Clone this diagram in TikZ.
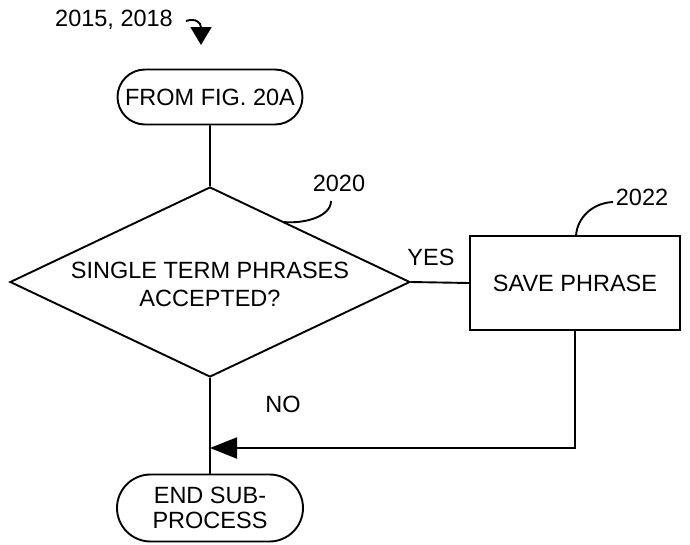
\documentclass[tikz,border=0pt]{standalone}
\usepackage{fontspec}
\setmainfont{Liberation Sans}
\usetikzlibrary{shapes.geometric,shapes.misc,arrows.meta}
\begin{document}
\begin{tikzpicture}[x=1pt,y=-1pt,
  line width=1.9pt,
  every node/.style={font=\fontsize{23.5}{25}\selectfont},
  term/.style={draw,rounded rectangle,minimum width=185pt,minimum height=55pt,inner sep=0pt,align=center},
  decision/.style={draw,diamond,minimum width=400pt,minimum height=190pt,inner sep=0pt,align=center},
  procbox/.style={draw,rectangle,minimum width=210pt,minimum height=94pt,inner sep=0pt,align=center},
  lbl/.style={inner sep=0pt},
  leader/.style={line width=1.9pt}
]
\useasboundingbox (0,0) rectangle (690,544);
\node[term] (from) at (210,97) {FROM FIG. 20A};
\node[decision] (dec) at (210,282) {};
\node[lbl,align=center] (dectext) at (210,284) {SINGLE TERM PHRASES\\[3pt]ACCEPTED?};
\node[procbox] (save) at (575,283) {SAVE PHRASE};
\node[term,minimum height=67pt,minimum width=186pt] (end) at (210,508) {END SUB-\\[0pt]PROCESS};
\node[lbl] (yes) at (431,257) {YES};
\node[lbl] (no) at (283,404) {NO};
\node[lbl] (n2020) at (339,183) {2020};
\node[lbl] (n2022) at (642,197) {2022};
\node[lbl] (n2015) at (114,20) {2015, 2018};
\coordinate (m) at (210,448);
\coordinate (a2020) at (331,201);
\coordinate (b2020) at (283,222);
\coordinate (a2022) at (613,202);
\coordinate (b2022) at (576,236);
\coordinate (a2015) at (186,21);
\coordinate (b2015) at (201,45);
\draw (from) -- (dec.north);
\draw (dec.east) -- (save.west);
\draw (dec.south) -- (end.north);
\draw[-{Triangle[length=27pt,width=21pt]}] (save.south) |- (m);
\draw[leader] (a2020) .. controls (331,216) and (306,224) .. (b2020);
\draw[leader] (a2022) .. controls (592,203) and (577,218) .. (b2022);
\draw[leader,-{Triangle[length=18pt,width=21pt]}] (a2015) .. controls (195,18) and (201,22) .. (b2015);
\end{tikzpicture}
\end{document}
